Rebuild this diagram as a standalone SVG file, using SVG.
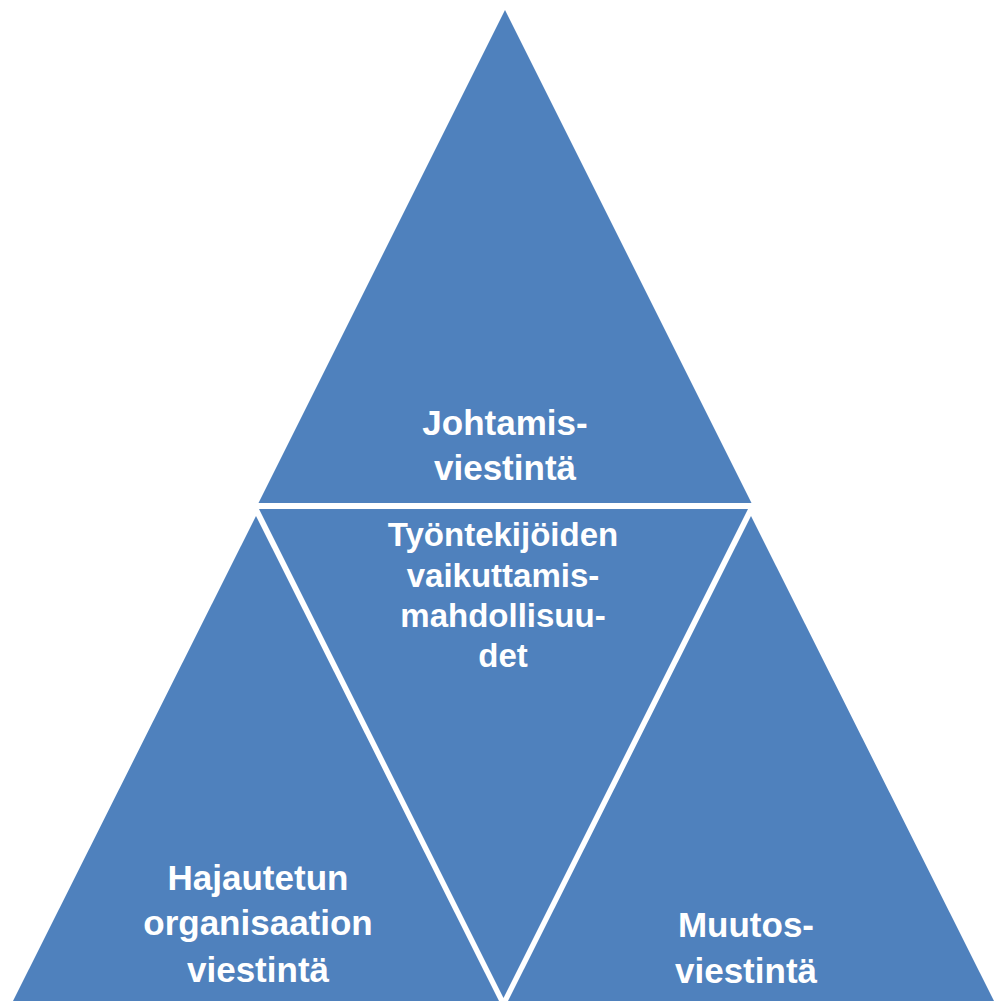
<svg xmlns="http://www.w3.org/2000/svg" width="996" height="1001" viewBox="0 0 996 1001">
  <style>
    .tri { fill: #4F81BD; }
    .lbl { fill: #FFFFFF; font-family: "Liberation Sans", Arial, sans-serif; font-weight: bold; font-size: 35px; text-anchor: middle; }
    .lbl-sm { font-size: 33px; }
  </style>
  <rect width="996" height="1001" fill="#FFFFFF"/>

  <!-- top triangle -->
  <g id="node-johtamisviestinta">
    <polygon class="tri" points="505,10 258.5,503 751.5,503"/>
    <text class="lbl" x="505" y="435">Johtamis-</text>
    <text class="lbl" x="505" y="480">viestintä</text>
  </g>

  <!-- inverted centre triangle -->
  <g id="node-vaikuttamismahdollisuudet">
    <polygon class="tri" points="259,509 748,509 503.5,998"/>
    <text class="lbl lbl-sm" x="503" y="546">Työntekijöiden</text>
    <text class="lbl lbl-sm" x="503" y="587">vaikuttamis-</text>
    <text class="lbl lbl-sm" x="503" y="627">mahdollisuu-</text>
    <text class="lbl lbl-sm" x="503" y="667">det</text>
  </g>

  <!-- bottom-left triangle -->
  <g id="node-hajautettu">
    <polygon class="tri" points="256,516 13,1001 499,1001"/>
    <text class="lbl" x="258" y="890">Hajautetun</text>
    <text class="lbl" x="258" y="935">organisaation</text>
    <text class="lbl" x="258" y="982">viestintä</text>
  </g>

  <!-- bottom-right triangle -->
  <g id="node-muutosviestinta">
    <polygon class="tri" points="751,516 508,1001 994,1001"/>
    <text class="lbl" x="746" y="937">Muutos-</text>
    <text class="lbl" x="746" y="983">viestintä</text>
  </g>

  <g id="connectors"/>
</svg>
